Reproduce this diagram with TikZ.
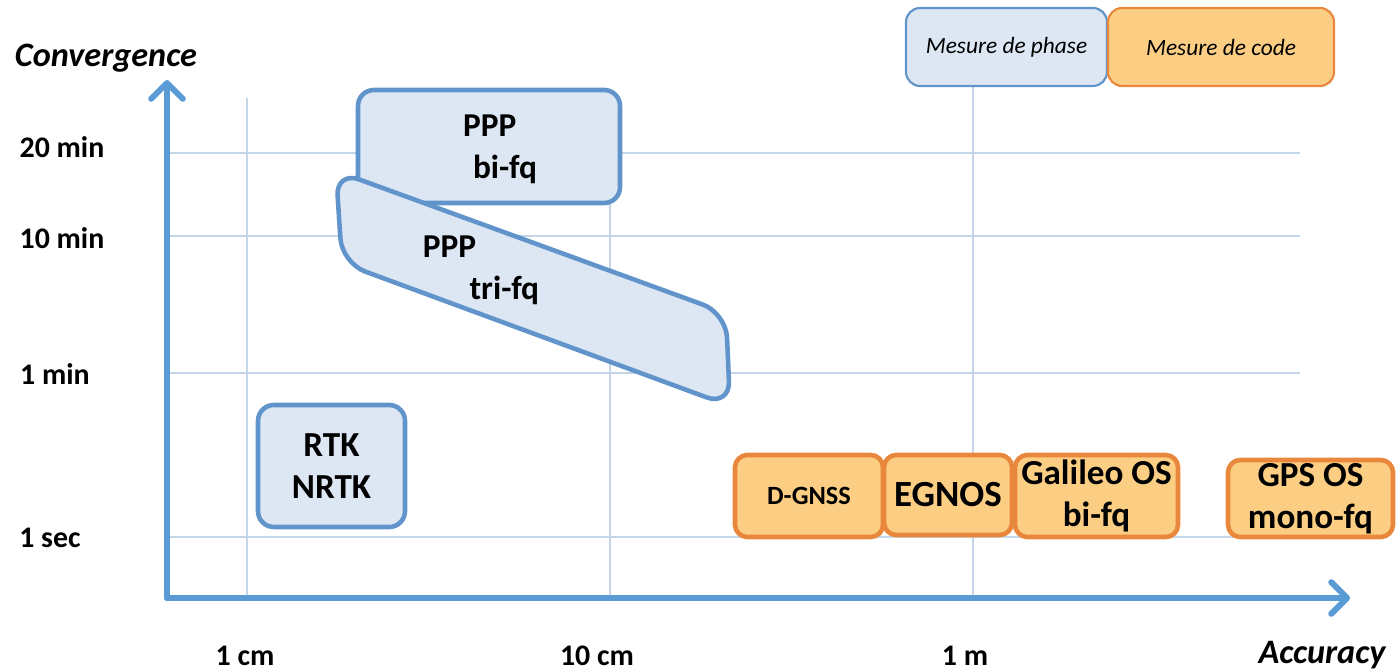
\documentclass[tikz,border=0pt]{standalone}
\usepackage{fontspec}
\setmainfont{Carlito}
\usetikzlibrary{arrows.meta}

\definecolor{axisblue}{RGB}{91,155,213}
\definecolor{phaseline}{RGB}{98,148,204}
\definecolor{phasefill}{RGB}{220,231,243}
\definecolor{codeline}{RGB}{233,136,60}
\definecolor{codefill}{RGB}{251,206,132}
\definecolor{gridblue}{RGB}{196,214,232}

\newcommand\pxu{0.02cm}

\tikzset{
  axisline/.style={axisblue, line width=3.4pt, line cap=round,
    -{Straight Barb[length=9pt,width=18pt,round]}},
  gridline/.style={gridblue, line width=0.8pt},
  phasebox/.style={draw=phaseline, fill=phasefill, line width=2.6pt,
    rounded corners=9pt, inner sep=0pt},
  codebox/.style={draw=codeline, fill=codefill, line width=2.6pt,
    rounded corners=7pt, inner sep=0pt, align=center,
    font=\bfseries\fontsize{20}{24}\selectfont},
  boxtext/.style={align=left, font=\bfseries\fontsize{19}{24}\selectfont},
  ticklabel/.style={font=\bfseries\fontsize{17}{20}\selectfont},
  axislabel/.style={font=\bfseries\itshape\fontsize{19.5}{22}\selectfont},
  legendbox/.style={line width=1.2pt, rounded corners=8pt, inner sep=0pt,
    font=\itshape\fontsize{13.3}{16}\selectfont},
}

\begin{document}
\begin{tikzpicture}[x=\pxu, y=-\pxu]
  \useasboundingbox (0,0) rectangle (1396,672);

  % grid
  \foreach \gy in {153,236,373,537}
    \draw[gridline] (168,\gy) -- (1300,\gy);
  \draw[gridline] (247,98) -- (247,597);
  \draw[gridline] (610,98) -- (610,597);
  \draw[gridline] (973,86) -- (973,597);

  % axes
  \coordinate (origin) at (167,598);
  \coordinate (ytip) at (167,80);
  \coordinate (xtip) at (1350,598);
  \draw[axisline] (origin) -- (ytip);
  \draw[axisline] (origin) -- (xtip);
  \node[axislabel] (convergence) at (106,58) {Convergence};
  \node[axislabel] (accuracy) at (1322,655) {Accuracy};

  % tick labels
  \node[ticklabel] (t20min) at (62,147) {20 min};
  \node[ticklabel] (t10min) at (62,238) {10 min};
  \node[ticklabel] (t1min) at (55,374) {1 min};
  \node[ticklabel] (t1sec) at (50,538) {1 sec};
  \node[ticklabel] (t1cm) at (245,656) {1 cm};
  \node[ticklabel] (t10cm) at (597,656) {10 cm};
  \node[ticklabel] (t1m) at (965,656) {1 m};

  % phase measurements
  \node[phasebox, minimum width=262*\pxu, minimum height=113*\pxu]
    (pppbi) at (489,146.5) {};
  \node[boxtext] (pppbitxt) at (500,149) {PPP\\\hspace*{0.3em}bi-fq};

  \draw[phasebox, rounded corners=14pt]
    (336,171) -- (726,313) -- (730,406) -- (342,263) -- cycle;
  \node[boxtext] (ppptritxt) at (481,270) {PPP\\\hspace*{1.4em}tri-fq};

  \node[phasebox, minimum width=147*\pxu, minimum height=122*\pxu,
    align=center, font=\bfseries\fontsize{20}{24}\selectfont]
    (rtk) at (331.5,466) {RTK\\NRTK};

  % code measurements
  \node[codebox, minimum width=148*\pxu, minimum height=82*\pxu,
    font=\bfseries\fontsize{15}{18}\selectfont]
    (dgnss) at (809,496) {D-GNSS};
  \node[codebox, minimum width=128*\pxu, minimum height=80*\pxu,
    font=\bfseries\fontsize{21}{24}\selectfont]
    (egnos) at (948,495) {EGNOS};
  \node[codebox, minimum width=163*\pxu, minimum height=82*\pxu]
    (galileo) at (1096.5,496) {Galileo OS\\bi-fq};
  \node[codebox, minimum width=165*\pxu, minimum height=77*\pxu]
    (gps) at (1310.5,498.5) {GPS OS\\mono-fq};

  % legend
  \node[legendbox, draw=phaseline, fill=phasefill,
    minimum width=201*\pxu, minimum height=78*\pxu]
    (legphase) at (1006.5,47) {Mesure de phase};
  \node[legendbox, draw=codeline, fill=codefill,
    minimum width=226*\pxu, minimum height=78*\pxu]
    (legcode) at (1221,47) {Mesure de code};
\end{tikzpicture}
\end{document}
